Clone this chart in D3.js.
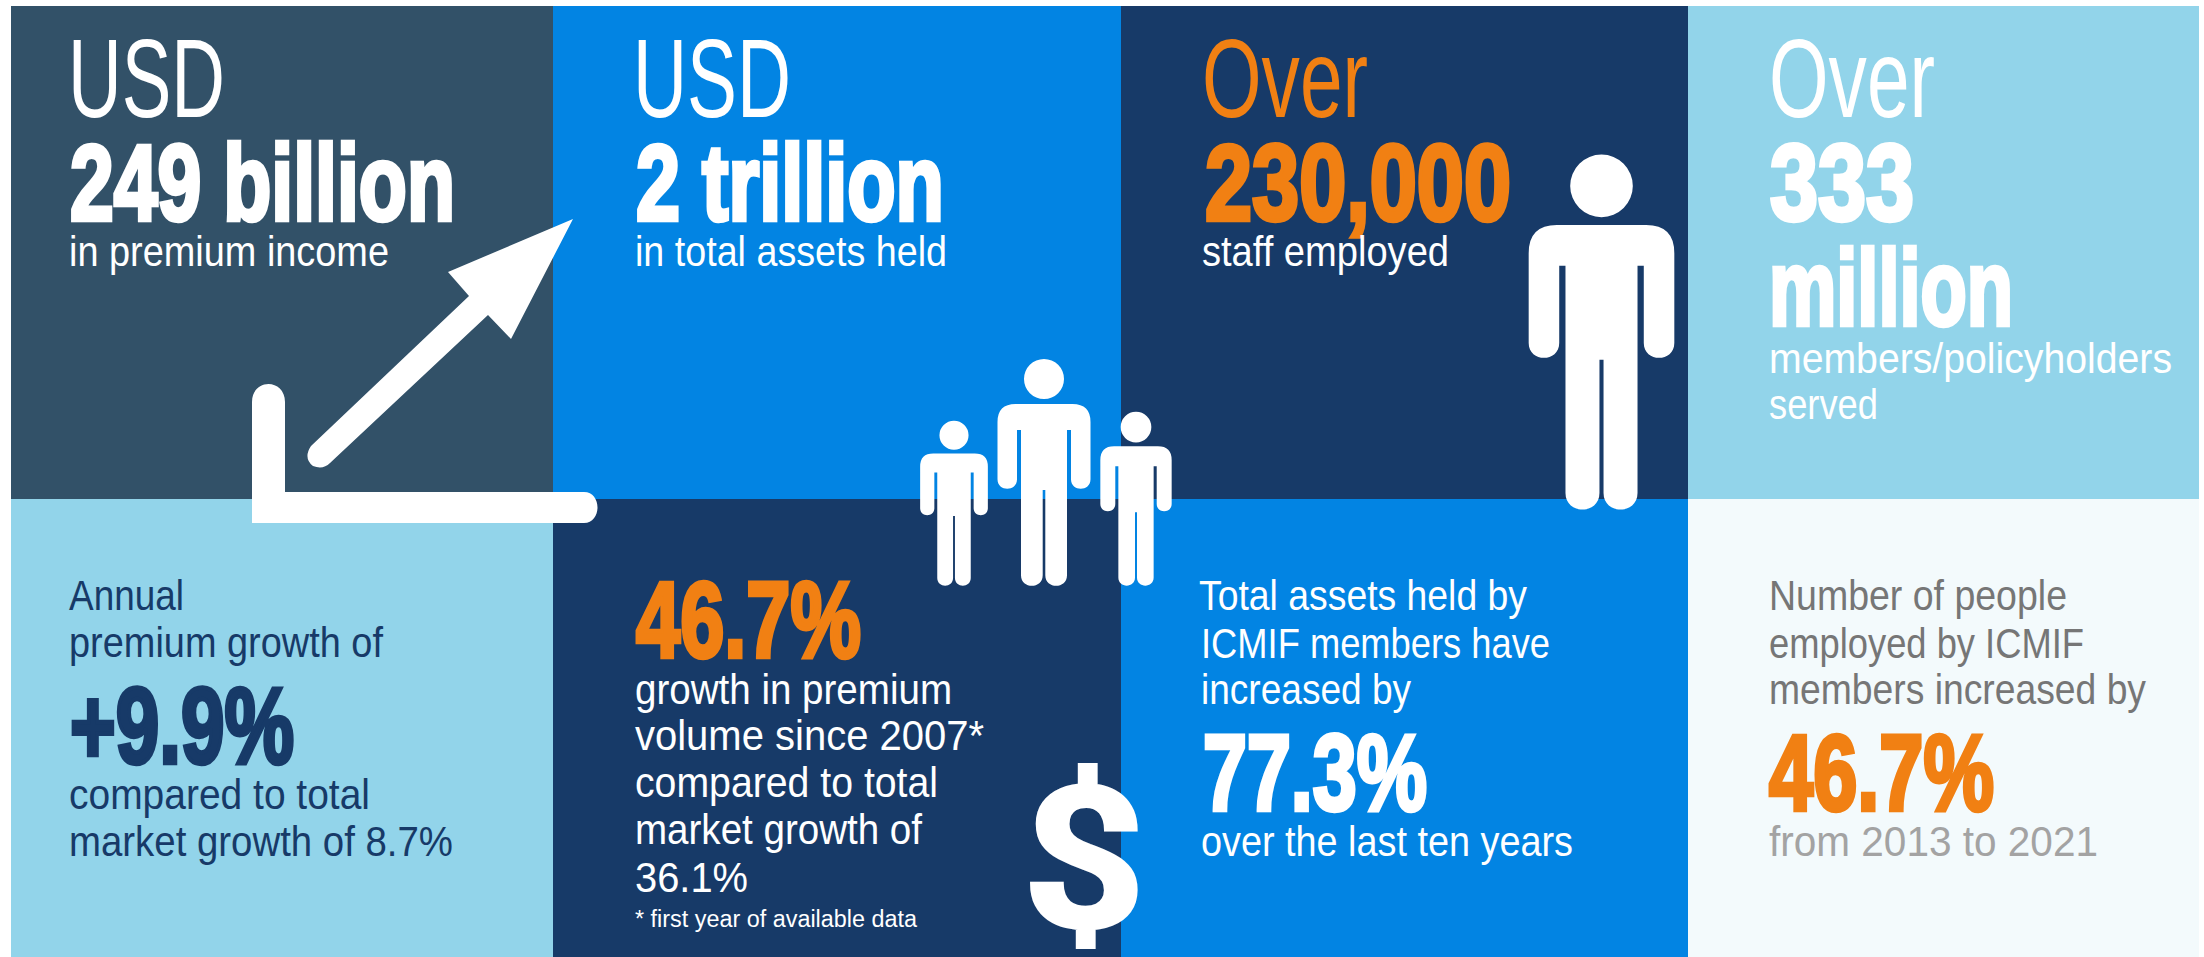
<!DOCTYPE html>
<html>
<head>
<meta charset="utf-8">
<script src="https://cdn.jsdelivr.net/npm/d3@7"></script>
<style>
html,body{margin:0;padding:0;background:#fff;}
svg{display:block;}
text{font-family:"Liberation Sans",Arial,sans-serif;}
</style>
</head>
<body>
<script>
// ---------- content ----------
const columns = ["c1","c2","c3","c4"];
const rows = ["top","bottom"];
const panelFill = [
  ["#325168","#0284e3","#173a68","#92d4ea"],
  ["#92d4ea","#173a68","#0284e3","#f3fafc"]
];
const leadWords = ["USD","USD","Over","Over"];
const bigFigures = ["249 billion","2 trillion","230,000","333","million","+9.9%","46.7%","77.3%","46.7%"];
const captions = ["in premium income","in total assets held","staff employed","members/policyholders","served"];
const premiumBody = ["Annual","premium growth of","compared to total","market growth of 8.7%"];
const volumeBody = ["growth in premium","volume since 2007*","compared to total","market growth of","36.1%"];
const footnote = ["* first year of available data"];
const assetsBody = ["Total assets held by","ICMIF members have","increased by","over the last ten years"];
const staffBody = ["Number of people","employed by ICMIF","members increased by"];
const staffRange = ["from 2013 to 2021"];
const dollarSign = ["$"];

// ---------- layout (separate from content) ----------
const W = 2204, H = 957;
const colEdge = d3.scaleOrdinal().domain(columns).range([11,553,1121,1688]);
const colEnd  = d3.scaleOrdinal().domain(columns).range([553,1121,1688,2199]);
const rowEdge = d3.scaleOrdinal().domain(rows).range([6,499]);
const rowEnd  = d3.scaleOrdinal().domain(rows).range([499,957]);

const C = {white:"#ffffff",orange:"#f18013",navy:"#173a68",grey:"#767676",lgrey:"#a3a3a3"};
const stem = 4.5;

// [left, baseline, right, font-size, colour]
const leadPos = [[68,117,225,112,C.white],[633,117,791,112,C.white],[1202,117,1368,112,C.orange],[1769,117,1935,112,C.white]];
const bigPos = [
  [70,220,455,107,C.white],[636,220,944,107,C.white],[1205,220,1511,107,C.orange],
  [1770,220,1914,107,C.white],[1769,325,2013,107,C.white],
  [70,763,294,107,C.navy],[636,657,861,107,C.orange],[1203,810,1427,107,C.white],[1769,810,1994,107,C.orange]
];
const capPos = [[69,266,389,42,C.white],[635,266,947,42,C.white],[1202,266,1449,42,C.white],[1769,373,2172,42,C.white],[1769,419,1878,42,C.white]];
const premPos = [[69,610,184,42,C.navy],[69,657,383,42,C.navy],[69,809,370,42,C.navy],[69,856,453,42,C.navy]];
const volPos = [[635,704,952,42,C.white],[635,750,984,42,C.white],[635,797,938,42,C.white],[635,844,922,42,C.white],[635,892,748,42,C.white]];
const footPos = [[635,927,917,23,C.white]];
const assetPos = [[1199,610,1527,42,C.white],[1201,658,1550,42,C.white],[1201,704,1411,42,C.white],[1201,856,1573,42,C.white]];
const staffPos = [[1769,610,2067,42,C.grey],[1769,658,2084,42,C.grey],[1769,704,2146,42,C.grey]];
const rangePos = [[1769,856,2098,42,C.lgrey]];

const svg = d3.select("body").append("svg").attr("width",W).attr("height",H).attr("viewBox",`0 0 ${W} ${H}`);
svg.append("rect").attr("width",W).attr("height",H).attr("fill","#fff");

// panels
const cells = rows.flatMap((r,i)=>columns.map((c,j)=>({r,c,fill:panelFill[i][j]})));
svg.append("g").selectAll("rect").data(cells).join("rect")
  .attr("x",d=>colEdge(d.c)).attr("y",d=>rowEdge(d.r))
  .attr("width",d=>colEnd(d.c)-colEdge(d.c)).attr("height",d=>rowEnd(d.r)-rowEdge(d.r))
  .attr("fill",d=>d.fill);

// people glyphs
function personPath(s){
  const P = d3.path();
  const hw=46.5, top=46, cr=18, slitTop=72, armBottom=131, inner=27, leg=23, gap=1.3, foot=228, ar=(hw-inner)/2, fr=(leg-gap)/2;
  const X=v=>v*s, Y=v=>v*s;
  P.moveTo(X(-hw+cr),Y(top));
  P.lineTo(X(hw-cr),Y(top));
  P.quadraticCurveTo(X(hw),Y(top),X(hw),Y(top+cr));
  P.lineTo(X(hw),Y(armBottom-ar));
  P.bezierCurveTo(X(hw),Y(armBottom+ar*.3),X(inner),Y(armBottom+ar*.3),X(inner),Y(armBottom-ar));
  P.lineTo(X(inner),Y(slitTop));
  P.lineTo(X(leg),Y(slitTop));
  P.lineTo(X(leg),Y(foot-fr));
  P.bezierCurveTo(X(leg),Y(foot+fr*.3),X(gap),Y(foot+fr*.3),X(gap),Y(foot-fr));
  P.lineTo(X(gap),Y(132));
  P.lineTo(X(-gap),Y(132));
  P.lineTo(X(-gap),Y(foot-fr));
  P.bezierCurveTo(X(-gap),Y(foot+fr*.3),X(-leg),Y(foot+fr*.3),X(-leg),Y(foot-fr));
  P.lineTo(X(-leg),Y(slitTop));
  P.lineTo(X(-inner),Y(slitTop));
  P.lineTo(X(-inner),Y(armBottom-ar));
  P.bezierCurveTo(X(-inner),Y(armBottom+ar*.3),X(-hw),Y(armBottom+ar*.3),X(-hw),Y(armBottom-ar));
  P.lineTo(X(-hw),Y(top+cr));
  P.quadraticCurveTo(X(-hw),Y(top),X(-hw+cr),Y(top));
  P.closePath();
  P.moveTo(X(20),Y(21));
  P.arc(0,Y(21),X(20),0,Math.PI*2);
  P.closePath();
  return P.toString();
}
const people = [{cx:1601.5,top:153,s:1.566},{cx:1044,top:358,s:1},{cx:954,top:420,s:.728},{cx:1136,top:411,s:.767}];
svg.append("g").selectAll("path").data(people).join("path")
  .attr("transform",d=>`translate(${d.cx},${d.top})`)
  .attr("d",d=>personPath(d.s)).attr("fill","#fff");

// growth arrow and axes
const arrow = d3.path();
arrow.moveTo(573,219); arrow.lineTo(448,272); arrow.lineTo(469,296); arrow.lineTo(311,446);
arrow.quadraticCurveTo(303,458,313,466); arrow.quadraticCurveTo(323,470,330,463);
arrow.lineTo(488,315); arrow.lineTo(511,339); arrow.closePath();
svg.append("path").attr("d",arrow.toString()).attr("fill","#fff");
const corner = d3.path();
corner.moveTo(252,523); corner.lineTo(252,402);
corner.bezierCurveTo(252,378,285,378,285,402);
corner.lineTo(285,492); corner.lineTo(584,492);
corner.bezierCurveTo(602,492,602,523,584,523); corner.closePath();
svg.append("path").attr("d",corner.toString()).attr("fill","#fff");

// text
function put(strings,pos,cls,bold){
  const g = svg.append("g").attr("class",cls);
  g.selectAll("text").data(strings.map((t,i)=>({t,p:pos[i]}))).join("text")
    .attr("x",d=>d.p[0]).attr("y",d=>d.p[1])
    .attr("font-size",d=>d.p[3])
    .attr("font-weight",bold?"700":"400")
    .attr("fill",d=>d.p[4])
    .attr("stroke",d=>bold?d.p[4]:"none")
    .attr("stroke-width",bold?stem:0)
    .attr("textLength",d=>d.p[2]-d.p[0])
    .attr("lengthAdjust","spacingAndGlyphs")
    .text(d=>d.t);
}
put(leadWords,leadPos,"lead",false);
put(bigFigures,bigPos,"big",true);
put(captions,capPos,"caption",false);
put(premiumBody,premPos,"premium",false);
put(volumeBody,volPos,"volume",false);
put(footnote,footPos,"foot",false);
put(assetsBody,assetPos,"assets",false);
put(staffBody,staffPos,"staff",false);
put(staffRange,rangePos,"range",false);

svg.append("text").attr("x",1022).attr("y",927).attr("font-size",197).attr("font-weight",700).attr("fill","#fff")
  .attr("stroke","#fff").attr("stroke-width",3)
  .style("font-family","Roboto")
  .attr("textLength",124).attr("lengthAdjust","spacingAndGlyphs").text(dollarSign[0]);
</script>
</body>
</html>
